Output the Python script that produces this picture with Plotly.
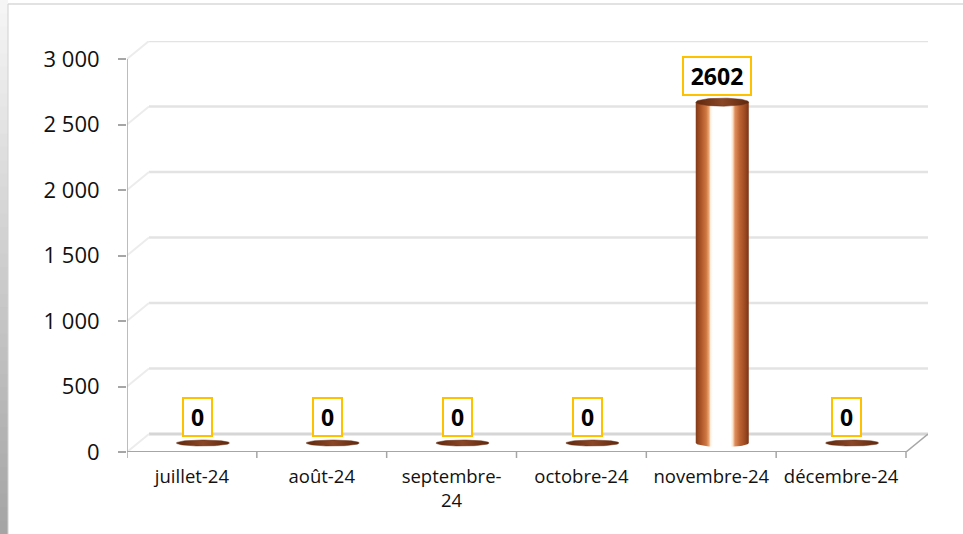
import numpy as np
import plotly.graph_objects as go

# ---------------- data ----------------
categories = ["juillet-24", "août-24", "septembre-24", "octobre-24", "novembre-24", "décembre-24"]
tick_labels = ["juillet-24", "août-24", "septembre-<br>24", "octobre-24", "novembre-24", "décembre-24"]
values = [0, 0, 0, 0, 2602, 0]
y_tick_values = [0, 500, 1000, 1500, 2000, 2500, 3000]
y_tick_labels = ["0", "500", "1\u00a0000", "1\u00a0500", "2\u00a0000", "2\u00a0500", "3\u00a0000"]

# ---------------- geometry / style ----------------
W, H = 963, 534
L, R, T, B = 127, 35, 41, 82
plot_w = W - L - R
plot_h = H - T - B
DEPTH_X_PX, DEPTH_Y_PX = 22, 18
n = len(categories)
ymax = y_tick_values[-1]
front_px = plot_w - DEPTH_X_PX
x_px = front_px / n                       # pixels per category
y_px = (plot_h - DEPTH_Y_PX) / ymax       # pixels per unit
DX = DEPTH_X_PX / x_px
DY = DEPTH_Y_PX / y_px
xr = [-0.5, n - 0.5 + DX]
yr = [0, ymax + DY]

half_w = 26.5 / x_px
cap_h = 4 / y_px
xi = np.arange(n)

fig = go.Figure()

shapes = []
grid_col = "#e3e3e3"
axis_col = "#a6a6a6"
# back wall gridlines + side wall diagonals
for v in y_tick_values:
    shapes.append(dict(type="line", xref="x", yref="y", x0=-0.5 + DX, x1=n - 0.5 + DX, y0=v + DY, y1=v + DY,
                       line=dict(color=grid_col if v > 0 else "#d6d6d6", width=2.5 if v > 0 else 3), layer="below"))
    shapes.append(dict(type="line", xref="x", yref="y", x0=-0.5, x1=-0.5 + DX, y0=v, y1=v + DY,
                       line=dict(color="#ececec", width=2), layer="below"))
# front floor edge and right floor edge
shapes.append(dict(type="line", xref="x", yref="y", x0=-0.5, x1=n - 0.5, y0=0, y1=0,
                   line=dict(color=axis_col, width=2), layer="below"))
shapes.append(dict(type="line", xref="x", yref="y", x0=n - 0.5, x1=n - 0.5 + DX, y0=0, y1=DY,
                   line=dict(color=axis_col, width=1.5), layer="below"))
# y axis line
shapes.append(dict(type="line", xref="x", yref="y", x0=-0.5, x1=-0.5, y0=0, y1=ymax,
                   line=dict(color=axis_col, width=1.5), layer="below"))

# outer frame: top border and left grey gradient strip
def px_to_paper_x(p):
    return (p - L) / plot_w

def px_to_paper_y(q):
    return (H - B - q) / plot_h

shapes.append(dict(type="line", xref="paper", yref="paper", x0=px_to_paper_x(8), x1=px_to_paper_x(W + 5),
                   y0=px_to_paper_y(4), y1=px_to_paper_y(4), line=dict(color="#d9d9d9", width=1.5), layer="below"))
nb = 40
for k in range(nb):
    t = k / (nb - 1)
    c = int(round(245 - t * (245 - 165)))
    shapes.append(dict(type="rect", xref="paper", yref="paper", x0=px_to_paper_x(-1), x1=px_to_paper_x(8),
                       y0=px_to_paper_y(H * k / nb), y1=px_to_paper_y(H * (k + 1) / nb + 1),
                       fillcolor=f"rgb({c},{c},{c})", line=dict(width=0), layer="below"))
shapes.append(dict(type="line", xref="paper", yref="paper", x0=px_to_paper_x(8), x1=px_to_paper_x(8),
                   y0=px_to_paper_y(4), y1=px_to_paper_y(H + 5), line=dict(color="#d0d0d0", width=1), layer="below"))

body_scale = [[0, "#833a18"], [0.1, "#ad5527"], [0.2, "#cf7843"], [0.25, "#eda877"], [0.28, "#fff1e0"],
              [0.32, "#ffffff"], [0.66, "#ffffff"], [0.7, "#fbe2c6"], [0.74, "#df8d5c"], [0.83, "#bd6332"],
              [0.93, "#9c4a22"], [1, "#7a3414"]]
cap_scale = [[0, "#5e280f"], [0.3, "#7a3a1b"], [0.5, "#8a4727"], [0.7, "#7a3a1b"], [1, "#5e280f"]]

theta = np.linspace(0, np.pi, 40)
for i, v in zip(xi, values):
    cx = i + DX / 2
    yb = DY / 2
    yt = v + DY / 2
    if v > 0:
        bx = np.concatenate([[cx - half_w, cx + half_w], cx + half_w * np.cos(theta)])
        by = np.concatenate([[yt, yt], yb - cap_h * np.sin(theta)])
        fig.add_trace(go.Scatter(x=bx, y=by, mode="lines", fill="toself", line=dict(width=0),
                                 fillgradient=dict(type="horizontal", colorscale=body_scale),
                                 hoverinfo="skip", showlegend=False))
    t2 = np.linspace(0, 2 * np.pi, 80)
    ch = cap_h if v > 0 else 3 / y_px
    fig.add_trace(go.Scatter(x=cx + half_w * np.cos(t2), y=yt + ch * np.sin(t2), mode="lines", fill="toself",
                             line=dict(width=0.5, color="#6a2f13"),
                             fillgradient=dict(type="horizontal", colorscale=cap_scale),
                             hoverinfo="skip", showlegend=False))

annotations = []
for i, v in zip(xi, values):
    txt = str(v)
    annotations.append(dict(x=i + 0.045, y=v + DY / 2, xref="x", yref="y", text=f"<b>{txt}</b>",
                            showarrow=False, xanchor="center", yanchor="bottom", yshift=6,
                            font=dict(family="Open Sans", size=23, color="black"),
                            bgcolor="white", bordercolor="#FFC000", borderwidth=2, borderpad=1,
                            width=12 + 13 * len(txt), height=34))

fig.update_layout(
    width=W, height=H, autosize=False,
    margin=dict(l=L, r=R, t=T, b=B),
    paper_bgcolor="white", plot_bgcolor="white",
    shapes=shapes, annotations=annotations,
    xaxis=dict(range=xr, tickmode="array", tickvals=list(xi), ticktext=tick_labels,
               showgrid=False, zeroline=False, showline=False, ticks="", ticklabelstandoff=11,
               tickfont=dict(family="Open Sans", size=18.5, color="#111"), fixedrange=True),
    yaxis=dict(range=yr, tickmode="array", tickvals=y_tick_values, ticktext=y_tick_labels,
               showgrid=False, zeroline=False, showline=False,
               ticks="outside", ticklen=8, tickcolor=axis_col, tickwidth=1.5, ticklabelstandoff=14,
               tickfont=dict(family="Open Sans", size=22, color="#111"), fixedrange=True),
    showlegend=False,
)

# boundary ticks for the category axis (between categories)
for k in range(n + 1):
    fig.add_shape(type="line", xref="x", yref="paper", x0=k - 0.5, x1=k - 0.5, y0=0, y1=-6 / plot_h,
                  line=dict(color=axis_col, width=1.5), layer="below")

fig.write_html("out.html", config={"displayModeBar": False},
               post_script="document.body.style.margin='0';document.body.style.overflow='hidden';")
